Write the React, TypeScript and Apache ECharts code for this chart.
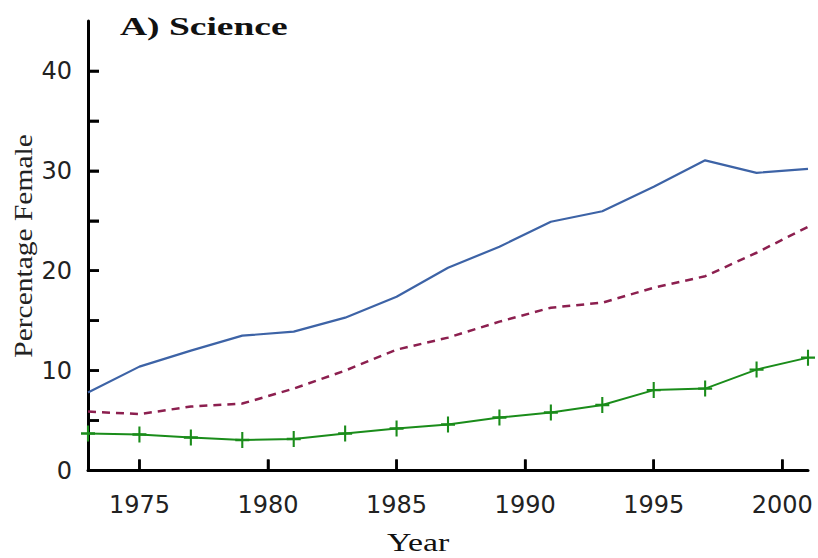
import React, { useEffect, useRef } from "react";
import * as echarts from "echarts";

const years = [1973, 1975, 1977, 1979, 1981, 1983, 1985, 1987, 1989, 1991, 1993, 1995, 1997, 1999, 2001];
const seriesTop = [7.8, 10.4, 12.0, 13.5, 13.9, 15.3, 17.4, 20.3, 22.4, 24.9, 25.95, 28.4, 31.05, 29.8, 30.2];
const seriesMid = [5.9, 5.65, 6.4, 6.7, 8.2, 10.0, 12.1, 13.3, 14.9, 16.3, 16.8, 18.3, 19.45, 21.8, 24.4];
const seriesLow = [3.7, 3.6, 3.3, 3.05, 3.15, 3.7, 4.2, 4.6, 5.3, 5.8, 6.55, 8.05, 8.2, 10.1, 11.3];
const xTicks = [1975, 1980, 1985, 1990, 1995, 2000];
const yLabels = [0, 10, 20, 30, 40];
const yTicks = [5, 10, 15, 20, 25, 30, 35, 40];

const pair = (vals: number[]) => years.map((y, i) => [y, vals[i]]);

const plusPath = "path://M8.5,0h3v8.5h8.5v3h-8.5v8.5h-3v-8.5h-8.5v-3h8.5z";
const TICK = 11;

const labelStyle = {
  fontFamily: "DejaVu Sans",
  fontSize: 24,
  color: "#222",
  formatter: (v: number) => String(v),
};

export default function App() {
  const ref = useRef<HTMLDivElement>(null);
  useEffect(() => {
    if (!ref.current) return;
    const chart = echarts.init(ref.current, null, { renderer: "svg" });
    chart.setOption({
      animation: false,
      backgroundColor: "#ffffff",
      grid: { left: 88, right: 10, top: 21, bottom: 87.5 },
      graphic: [
        {
          type: "text",
          x: 120,
          y: 14,
          style: {
            text: "A) Science",
            font: "bold 25px 'Liberation Serif'",
            fill: "#111",
          },
          scaleX: 1.5,
        },
        {
          type: "text",
          x: 387,
          y: 529,
          style: {
            text: "Year",
            font: "26px 'Liberation Serif'",
            fill: "#111",
          },
          scaleX: 1.3,
        },
        {
          type: "text",
          x: 24,
          y: 246,
          rotation: Math.PI / 2,
          scaleX: 1.18,
          style: {
            text: "Percentage Female",
            font: "25px 'Liberation Serif'",
            fill: "#222",
            align: "center",
            verticalAlign: "middle",
          },
        },
      ],
      xAxis: {
        type: "value",
        min: 1973,
        max: 2001,
        axisLine: { show: true, lineStyle: { color: "#000", width: 3 } },
        axisTick: { show: true, inside: true, length: TICK, customValues: xTicks, lineStyle: { color: "#000", width: 2.5 } },
        axisLabel: { ...labelStyle, customValues: xTicks, margin: 22 },
        splitLine: { show: false },
      },
      yAxis: {
        type: "value",
        min: 0,
        max: 45,
        axisLine: { show: true, lineStyle: { color: "#000", width: 3 } },
        axisTick: { show: true, inside: true, length: TICK, customValues: yTicks, lineStyle: { color: "#000", width: 2.5 } },
        axisLabel: { ...labelStyle, customValues: yLabels, margin: 16 },
        splitLine: { show: false },
      },
      series: [
        {
          type: "custom",
          data: xTicks.map((v) => [v, 0]),
          clip: false,
          silent: true,
          z: 10,
          renderItem: (params: any, api: any) => {
            const p = api.coord([api.value(0), api.value(1)]);
            return {
              type: "line",
              shape: { x1: p[0], y1: p[1], x2: p[0], y2: p[1] - TICK },
              style: { stroke: "#000", lineWidth: 2.5 },
            };
          },
        },
        {
          type: "custom",
          data: yTicks.map((v) => [1973, v]),
          clip: false,
          silent: true,
          z: 10,
          renderItem: (params: any, api: any) => {
            const p = api.coord([api.value(0), api.value(1)]);
            return {
              type: "line",
              shape: { x1: p[0], y1: p[1], x2: p[0] + TICK, y2: p[1] },
              style: { stroke: "#000", lineWidth: 2.5 },
            };
          },
        },
        {
          type: "line",
          data: pair(seriesTop),
          showSymbol: false,
          symbol: "none",
          lineStyle: { color: "#3d63a6", width: 2.2 },
          clip: false,
        },
        {
          type: "line",
          data: pair(seriesMid),
          showSymbol: false,
          symbol: "none",
          lineStyle: { color: "#8c1f4f", width: 2.5, type: [8, 6] },
          clip: false,
        },
        {
          type: "line",
          data: pair(seriesLow),
          symbol: plusPath,
          symbolSize: [14, 16],
          showSymbol: true,
          itemStyle: { color: "#1a8c1a" },
          lineStyle: { color: "#1a8c1a", width: 2 },
          clip: false,
        },
      ],
    });
    return () => chart.dispose();
  }, []);
  return <div ref={ref} style={{ position: "absolute", left: 0, top: 0, width: 818, height: 558 }} />;
}
